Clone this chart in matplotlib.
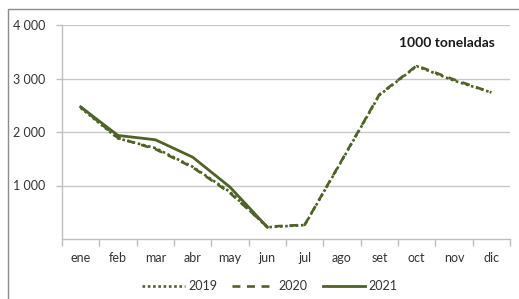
import matplotlib
matplotlib.use("Agg")
import matplotlib.pyplot as plt
from matplotlib.patches import Rectangle

plt.rcParams['font.family'] = ['Lato', 'DejaVu Sans']

months = ["ene", "feb", "mar", "abr", "may", "jun", "jul", "ago", "set", "oct", "nov", "dic"]
s2019 = [2450, 1880, 1700, 1350, 880, 220, 260, 1470, 2690, 3230, 2960, 2740]
s2020 = [2470, 1890, 1680, 1340, 860, 230, 265, 1480, 2700, 3240, 2980, 2740]
s2021 = [2470, 1935, 1855, 1530, 970, 220]
yticks = [1000, 2000, 3000, 4000]
ytick_labels = ["1 000", "2 000", "3 000", "4 000"]
unit_label = "1000 toneladas"

color = "#4F6228"
W, H = 519, 299
fig = plt.figure(figsize=(W / 100, H / 100), dpi=100)
ax = fig.add_axes([62 / W, 1 - 239 / H, (510 - 62) / W, (239 - 25) / H])

x = list(range(len(months)))
ax.plot(x, s2020, linestyle=(0, (3, 2.5)), color=color, lw=1.9, label="2020", zorder=3)
ax.plot(x, s2019, linestyle=(0, (1, 1)), color=color, lw=1.9, label="2019", zorder=4)
ax.plot(x[:len(s2021)], s2021, linestyle="-", color=color, lw=2.0, label="2021", zorder=5)

ax.set_xlim(-0.5, len(months) - 0.5)
ax.set_ylim(0, 4000)
ax.set_yticks(yticks)
ax.set_yticklabels(ytick_labels)
ax.set_xticks(x)
ax.set_xticklabels(months)
ax.set_xticks([i - 0.5 for i in range(len(months) + 1)], minor=True)
ax.tick_params(axis='x', which='major', length=0, pad=9, labelsize=9, labelcolor="#333333")
ax.tick_params(axis='x', which='minor', length=5, color="#BFBFBF", width=1)
ax.tick_params(axis='y', which='major', length=4, color="#BFBFBF", width=1, labelsize=9,
               labelcolor="#333333", pad=8)
ax.grid(axis='y', color="#C8C8C8", lw=1)
ax.set_axisbelow(True)
for s in ["top", "right"]:
    ax.spines[s].set_visible(False)
for s in ["left", "bottom"]:
    ax.spines[s].set_color("#BFBFBF")
    ax.spines[s].set_linewidth(1)

ax.text(495 / W, 1 - 43 / H, unit_label, transform=fig.transFigure, ha='right', va='center',
        fontsize=10, fontweight='bold', color="#1a1a1a")

handles, labels = ax.get_legend_handles_labels()
order = [labels.index(l) for l in ["2019", "2020", "2021"]]
leg = fig.legend([handles[i] for i in order], [labels[i] for i in order],
                 loc='center', bbox_to_anchor=(270 / W, 1 - 286 / H), ncol=3, frameon=False,
                 fontsize=9, handlelength=3.4, handletextpad=0.3, columnspacing=1.2)
for t in leg.get_texts():
    t.set_color("#333333")

fig.patches.append(Rectangle((8 / W, -0.1), 1.2, 1 - 9 / H + 0.1, transform=fig.transFigure,
                             fill=False, edgecolor="#8C8C8C", lw=1))

fig.savefig("out.png", dpi=100)
